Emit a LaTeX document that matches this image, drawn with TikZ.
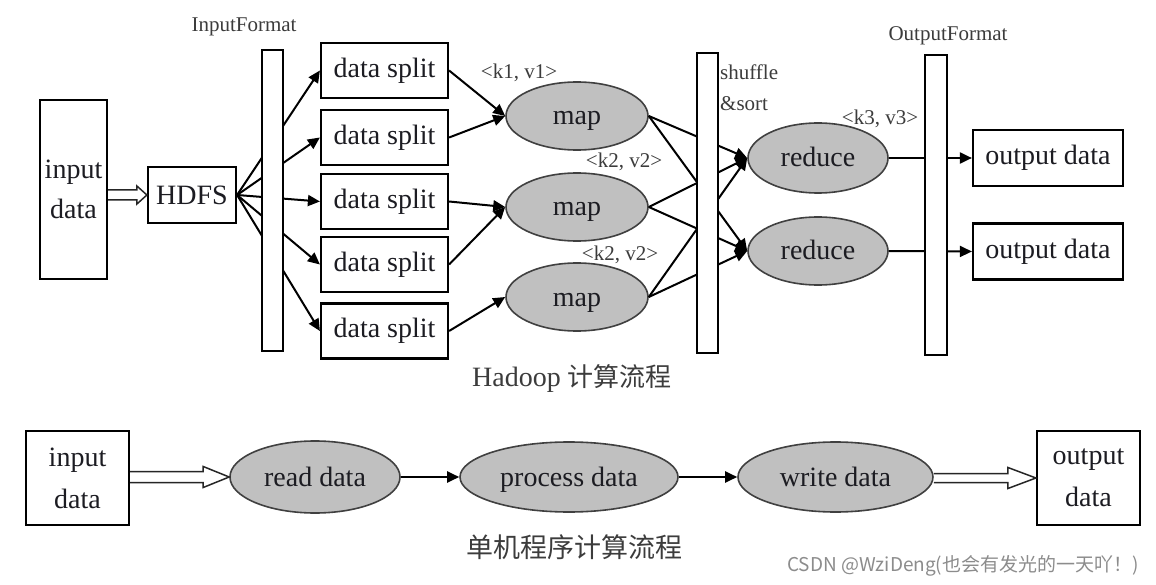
\documentclass[tikz,border=0pt]{standalone}
\usepackage{fontspec}
\setmainfont{Liberation Serif}
\newfontfamily\cjk{Noto Sans CJK SC}
\usetikzlibrary{arrows.meta,shapes.geometric,calc}
\definecolor{ellfill}{RGB}{192,192,192}
\definecolor{txt}{RGB}{28,28,34}
\definecolor{lbl}{RGB}{60,60,60}
\definecolor{wm}{RGB}{140,140,140}
\begin{document}
\begin{tikzpicture}[x=1pt,y=-1pt,
  rectbox/.style={draw=black, line width=2.2pt, fill=white, inner sep=0pt, text=txt, align=center, font=\fontsize{28}{40}\selectfont},
  ell/.style={ellipse, draw=black!75, line width=1.6pt, fill=ellfill, inner sep=0pt, text=txt, text height=20pt, text depth=2pt, font=\fontsize{28}{34}\selectfont},
  barbox/.style={draw=black, line width=2.2pt, fill=white, inner sep=0pt, minimum width=21pt},
  small/.style={font=\fontsize{21}{31}\selectfont, text=lbl, inner sep=0pt},
  conn/.style={line width=2pt, draw=black, -{Triangle[length=12pt,width=11pt]}},
  hollow/.style={line width=1.5pt, draw=black!85, fill=white, line join=miter}
]
\useasboundingbox[fill=white] (0,0) rectangle (1156,585);

% ---------------- Hadoop flow ----------------
\node[rectbox, minimum width=67pt, minimum height=179pt] (inTop) at (73.5,189.5) {input\\data};
\node[rectbox, minimum width=88pt, minimum height=56pt] (hdfs) at (192,195) {HDFS};

\foreach \i/\y in {1/70.5,2/137.5,3/201.5,4/264.5,5/331}
  \node[rectbox, minimum width=127pt, minimum height=55pt] (split\i) at (384.5,\y) {data split};

\node[ell, minimum width=142pt, minimum height=68pt] (map1) at (577,116) {map};
\node[ell, minimum width=142pt, minimum height=68pt] (map2) at (577,207) {map};
\node[ell, minimum width=142pt, minimum height=68pt] (map3) at (577,297) {map};

\node[ell, minimum width=140pt, minimum height=70pt] (red1) at (818,158) {reduce};
\node[ell, minimum width=140pt, minimum height=68pt] (red2) at (818,251) {reduce};

\node[rectbox, minimum width=150pt, minimum height=56pt] (out1) at (1048,158) {output data};
\node[rectbox, minimum width=150pt, minimum height=56pt] (out2) at (1048,251.5) {output data};

% labels
\node[small] (lInF) at (244,27) {InputFormat};
\node[small] (lOutF) at (948,36) {OutputFormat};
\node[small] (lk1) at (519,73) {<k1, v1>};
\node[small] (lk2a) at (624,162) {<k2, v2>};
\node[small] (lk2b) at (620,255) {<k2, v2>};
\node[small] (lk3) at (880,119) {<k3, v3>};
\node[small, align=left, anchor=north west] (lshuf) at (720,65) {shuffle\\\&sort};

% hollow arrow input -> HDFS
\draw[hollow] let \p1=(inTop.east), \p2=(hdfs.west) in
  (\x1,\y2+5pt) -- (\x2-10pt,\y2+5pt) -- (\x2-10pt,\y2+9pt) -- (\x2,\y2) --
  (\x2-10pt,\y2-9pt) -- (\x2-10pt,\y2-5pt) -- (\x1,\y2-5pt);

% HDFS -> splits
\foreach \i in {1,...,5}
  \draw[conn] (hdfs.east) -- (split\i.west);

% splits -> maps
\draw[conn] (split1.east) -- (map1.west);
\draw[conn] (split2.east) -- (map1.west);
\draw[conn] (split3.east) -- (map2.west);
\draw[conn] (split4.east) -- (map2.west);
\draw[conn] (split5.east) -- (map3.west);

% maps -> reduces
\foreach \m in {1,2,3}
  \foreach \r in {1,2}
    \draw[conn] (map\m.east) -- (red\r.west);

% reduces -> outputs
\draw[conn] (red1.east) -- (out1.west);
\draw[conn] (red2.east) -- (out2.west);

% bars on top of the connectors
\node[barbox, minimum height=301pt] (ifbar) at (272.5,200.5) {};
\node[barbox, minimum height=300pt] (shbar) at (707.5,203) {};
\node[barbox, minimum width=22pt, minimum height=300pt] (ofbar) at (936,205) {};

\node[text=lbl, inner sep=0pt, font=\fontsize{28}{34}\selectfont] (cap1) at (572,378) {Hadoop {\cjk\fontsize{26}{34}\selectfont 计算流程}};

% ---------------- single machine flow ----------------
\node[rectbox, minimum width=103pt, minimum height=94pt, font=\fontsize{28}{42}\selectfont] (inBot) at (77.5,478) {input\\data};
\node[ell, minimum width=170pt, minimum height=72pt] (read) at (315,477) {read data};
\node[ell, minimum width=218pt, minimum height=70pt] (proc) at (569,477) {process data};
\node[ell, minimum width=195pt, minimum height=70pt] (write) at (835.5,477) {write data};
\node[rectbox, minimum width=103pt, minimum height=94pt, font=\fontsize{28}{42}\selectfont] (outBot) at (1088.5,478) {output\\data};

\draw[hollow] let \p1=(inBot.east), \p2=(read.west) in
  (\x1,\y2+5.5pt) -- (\x2-26pt,\y2+5.5pt) -- (\x2-26pt,\y2+10.5pt) -- (\x2,\y2) --
  (\x2-26pt,\y2-10.5pt) -- (\x2-26pt,\y2-5.5pt) -- (\x1,\y2-5.5pt);
\draw[conn] (read.east) -- (proc.west);
\draw[conn] (proc.east) -- (write.west);
\draw[hollow] let \p1=(write.east), \p2=(outBot.west) in
  (\x1,\y2+4.5pt) -- (\x2-28pt,\y2+4.5pt) -- (\x2-28pt,\y2+10.5pt) -- (\x2,\y2) --
  (\x2-28pt,\y2-10.5pt) -- (\x2-28pt,\y2-4.5pt) -- (\x1,\y2-4.5pt);

\node[text=lbl, inner sep=0pt, font=\cjk\fontsize{27}{34}\selectfont] (cap2) at (574,547) {单机程序计算流程};

\node[text=wm, inner sep=0pt, font=\cjk\fontsize{19}{24}\selectfont] (wmark) at (963,566) {CSDN @WziDeng(也会有发光的一天吖！)};
\end{tikzpicture}
\end{document}
